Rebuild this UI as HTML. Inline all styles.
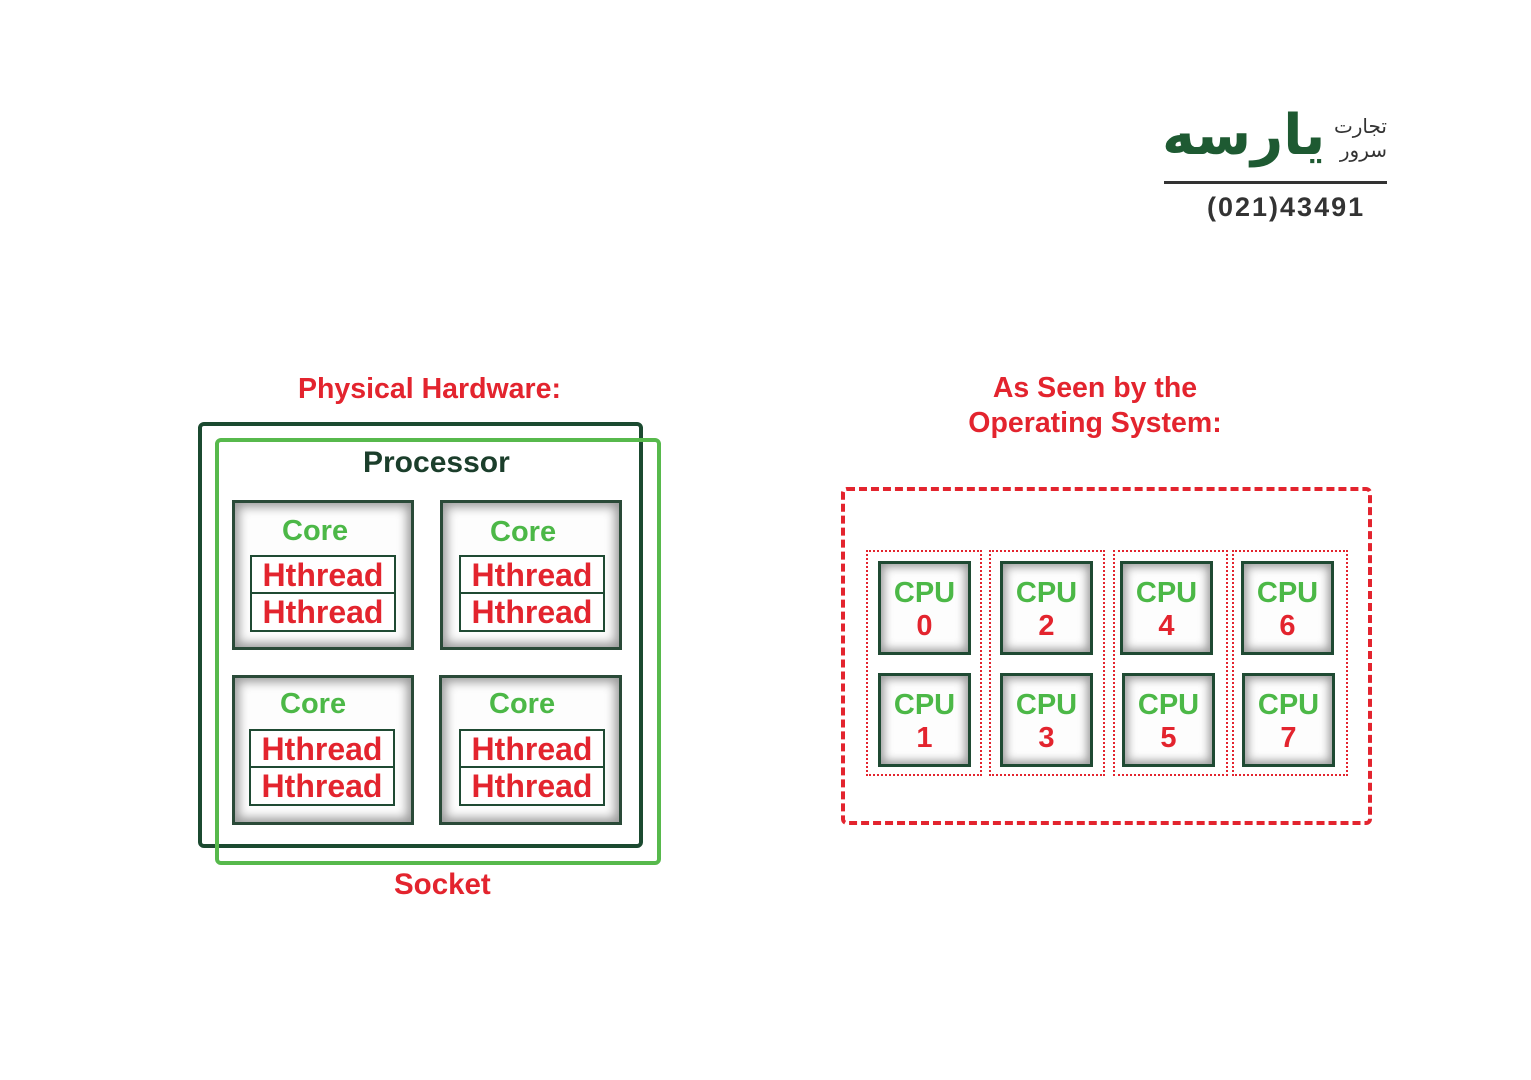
<!DOCTYPE html>
<html><head><meta charset="utf-8"><style>
body{margin:0;width:1531px;height:1080px;background:#fff;position:relative;overflow:hidden;font-family:"Liberation Sans",Arial,sans-serif;font-weight:bold}
.a{position:absolute;box-sizing:border-box}
.t{position:absolute;text-align:center;white-space:nowrap}
.red{color:#e3242e}.grn{color:#4cb847}.dk{color:#1a4a2e}
.core{position:absolute;box-sizing:border-box;border:3px solid #2a4a38;background:#fdfdfd;box-shadow:inset 0 0 10px 4px #9a9a9a}
.ht{position:absolute;box-sizing:border-box;border:2px solid #1f4a33;background:#fff}
.ht div{height:50%;box-sizing:border-box;text-align:center;color:#e3242e;font-size:32px;line-height:36px}
.ht div:first-child{border-bottom:2px solid #1f4a33}
.cpu{position:absolute;box-sizing:border-box;border:3px solid #1f4a33;background:#fdfdfd;box-shadow:inset 0 0 9px 3px #9a9a9a;text-align:center;width:93px;height:94px;font-size:29px;line-height:33px;padding-top:13px}
.cpu span{display:block;color:#e3242e}
.cpu b{color:#4cb847}
.grp{position:absolute;box-sizing:border-box;border:2px dotted #e3242e;top:550px;height:226px}
</style></head><body>
<!-- logo -->
<div class="t" style="left:1162px;top:100px;width:162px;font-size:56px;color:#1e5a32;font-family:'DejaVu Sans',sans-serif;font-weight:bold;line-height:72px">یارسه</div>
<div class="t" style="left:1333px;top:114px;font-size:20px;color:#333;font-weight:normal;font-family:'DejaVu Sans',sans-serif;line-height:24px;text-align:right;width:54px">تجارت<br>سرور</div>
<div class="a" style="left:1164px;top:181px;width:223px;height:3px;background:#333"></div>
<div class="t" style="left:1207px;top:192px;font-size:27px;color:#333;letter-spacing:2px">(021)43491</div>

<div class="t red" style="left:298px;top:373px;font-size:28.5px">Physical Hardware:</div>
<div class="a" style="left:198px;top:422px;width:445px;height:426px;border:4px solid #1b4a30;border-radius:6px"></div>
<div class="a" style="left:215px;top:438px;width:446px;height:427px;border:4px solid #57b94c;border-radius:6px"></div>
<div class="t dk" style="left:363px;top:446px;font-size:30px;color:#1b3e2b">Processor</div>

<div class="core" style="left:232px;top:500px;width:182px;height:150px"></div>
<div class="core" style="left:440px;top:500px;width:182px;height:150px"></div>
<div class="core" style="left:232px;top:675px;width:182px;height:150px"></div>
<div class="core" style="left:439px;top:675px;width:183px;height:150px"></div>
<div class="t grn" style="left:282px;top:515px;font-size:29px">Core</div>
<div class="t grn" style="left:490px;top:516px;font-size:29px">Core</div>
<div class="t grn" style="left:280px;top:688px;font-size:29px">Core</div>
<div class="t grn" style="left:489px;top:688px;font-size:29px">Core</div>
<div class="ht" style="left:250px;top:555px;width:146px;height:77px"><div>Hthread</div><div>Hthread</div></div>
<div class="ht" style="left:459px;top:555px;width:146px;height:77px"><div>Hthread</div><div>Hthread</div></div>
<div class="ht" style="left:249px;top:729px;width:146px;height:77px"><div>Hthread</div><div>Hthread</div></div>
<div class="ht" style="left:459px;top:729px;width:146px;height:77px"><div>Hthread</div><div>Hthread</div></div>
<div class="t red" style="left:394px;top:868px;font-size:29.5px">Socket</div>

<div class="t red" style="left:940px;top:371px;width:310px;font-size:28.5px;line-height:35px">As Seen by the<br>Operating System:</div>
<div class="a" style="left:841px;top:487px;width:531px;height:338px;border:4px dashed #e3242e;border-radius:6px"></div>
<div class="grp" style="left:866px;width:116px"></div>
<div class="grp" style="left:989px;width:116px"></div>
<div class="grp" style="left:1113px;width:115px"></div>
<div class="grp" style="left:1232px;width:116px"></div>
<div class="cpu" style="left:878px;top:561px"><b>CPU</b><span>0</span></div>
<div class="cpu" style="left:878px;top:673px"><b>CPU</b><span>1</span></div>
<div class="cpu" style="left:1000px;top:561px"><b>CPU</b><span>2</span></div>
<div class="cpu" style="left:1000px;top:673px"><b>CPU</b><span>3</span></div>
<div class="cpu" style="left:1120px;top:561px"><b>CPU</b><span>4</span></div>
<div class="cpu" style="left:1122px;top:673px"><b>CPU</b><span>5</span></div>
<div class="cpu" style="left:1241px;top:561px"><b>CPU</b><span>6</span></div>
<div class="cpu" style="left:1242px;top:673px"><b>CPU</b><span>7</span></div>
</body></html>
